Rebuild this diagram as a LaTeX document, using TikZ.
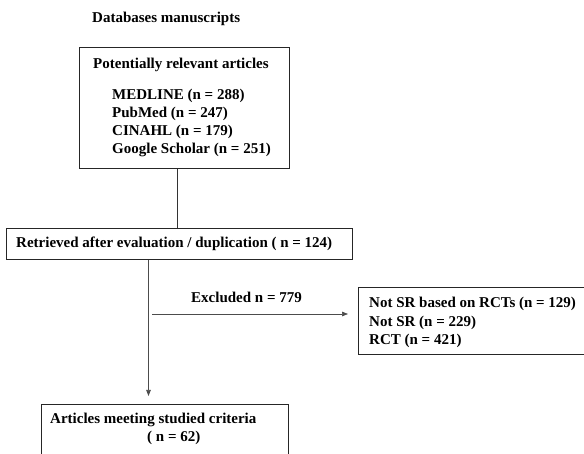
\documentclass[tikz,border=0pt]{standalone}
\usepackage{fontspec}
\setmainfont{Liberation Serif}
\usetikzlibrary{arrows.meta}
\begin{document}
\begin{tikzpicture}[x=1pt,y=-1pt]
\tikzset{
    texto/.style={anchor=base west, inner sep=0pt, font=\fontsize{15}{18}\selectfont\bfseries},
    caja/.style={draw=black!85, line width=1pt},
    flecha/.style={draw=black!70, line width=0.7pt, -{Triangle[length=6pt,width=4.5pt]}}
}
\useasboundingbox (0,0) rectangle (584,454);
\clip (0,0) rectangle (584,454);
\fill[white] (0,0) rectangle (584,454);
% cajas
\node[caja, anchor=north west, minimum width=210, minimum height=121, inner sep=0pt] (pot) at (79,47) {};
\node[caja, anchor=north west, minimum width=346, minimum height=31, inner sep=0pt] (ret) at (6,228) {};
\node[caja, anchor=north west, minimum width=250, minimum height=67, inner sep=0pt] (excl) at (358,287) {};
\node[caja, anchor=north west, minimum width=247, minimum height=70, inner sep=0pt] (art) at (41,404) {};
% textos
\node[texto] (dbs) at (92,23) {Databases manuscripts};
\node[texto] (potT) at (93,69) {Potentially relevant articles};
\node[texto] (med) at (112,100) {MEDLINE (n = 288)};
\node[texto] (pub) at (112,118) {PubMed (n = 247)};
\node[texto] (cin) at (112,136) {CINAHL (n = 179)};
\node[texto] (goo) at (112,154) {Google Scholar (n = 251)};
\node[texto] (retT) at (16,248) {Retrieved after evaluation / duplication ( n = 124)};
\node[texto] (exT) at (191,303) {Excluded n = 779};
\node[texto] (ex1) at (369,308) {Not SR based on RCTs (n = 129)};
\node[texto] (ex2) at (369,327) {Not SR (n = 229)};
\node[texto] (ex3) at (369,345) {RCT (n = 421)};
\node[texto] (artT) at (50,423) {Articles meeting studied criteria};
\node[texto] (artN) at (147,442) {( n = 62)};
% conectores
\coordinate (exl) at (152,314);
\draw[black!80, line width=0.8pt] ([xshift=-7]pot.south) -- ([xshift=-7]pot.south |- ret.north);
\draw[flecha, shorten >=8pt] ([xshift=-31]ret.south) -- ([xshift=-31]ret.south |- art.north);
\draw[flecha, shorten >=10pt] (exl) -- (exl -| excl.west);
\end{tikzpicture}
\end{document}
